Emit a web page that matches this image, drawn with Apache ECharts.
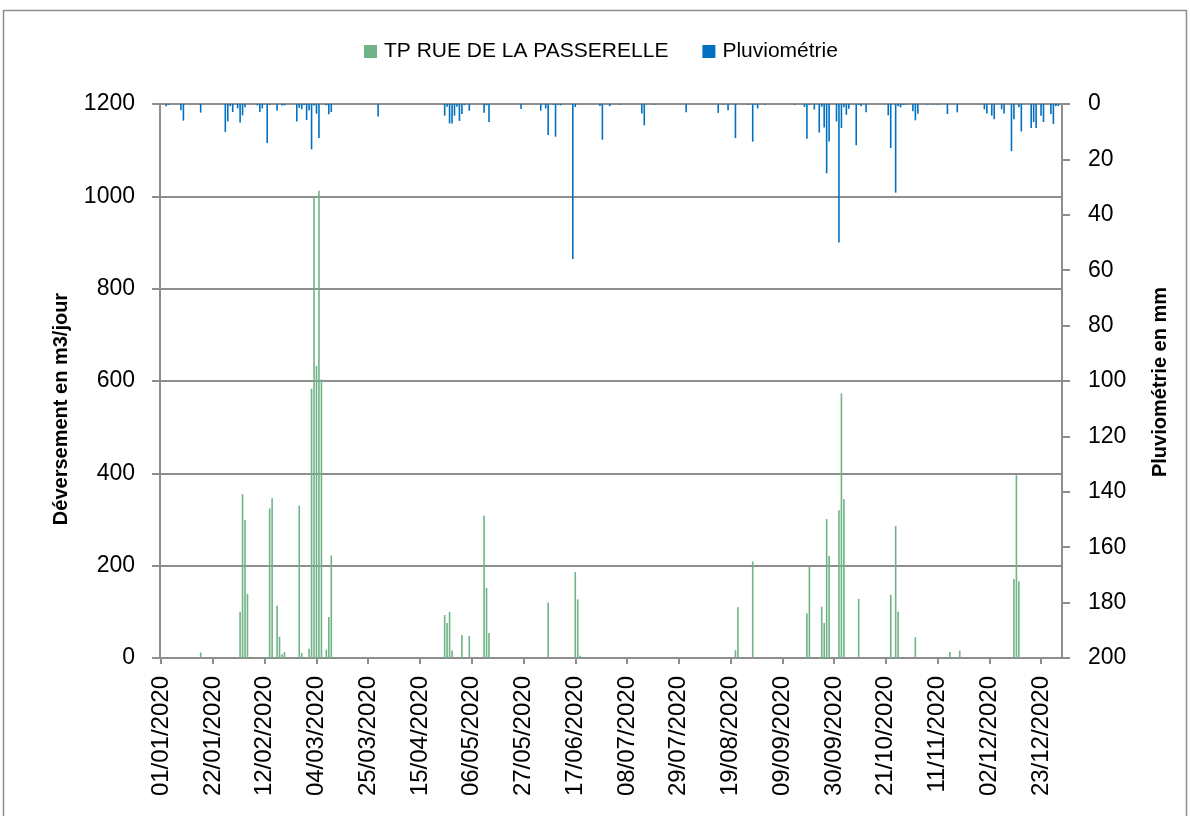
<!DOCTYPE html>
<html>
<head>
<meta charset="utf-8">
<title>Déversement TP Rue de la Passerelle 2020</title>
<script src="https://cdn.jsdelivr.net/npm/echarts@6/dist/echarts.min.js"></script>
<style>
  html, body { margin: 0; padding: 0; background: #fff; }
  #chart { width: 1190px; height: 816px; }
</style>
</head>
<body>
<div id="chart"></div>
<script>
// jours de l'année (0 = 01/01/2020) où il y a un déversement, et volumes en m3/jour
var overflowDays = [16, 32, 33, 34, 35, 44, 45, 47, 48, 49, 50, 56, 57, 60, 61, 62, 63, 64, 65, 67, 68, 69,
  115, 116, 117, 118, 122, 125, 131, 132, 133, 157, 168, 169, 170,
  233, 234, 240, 262, 263, 268, 269, 270, 271, 275, 276, 277,
  283, 296, 298, 299, 306, 320, 324, 346, 347, 348];
var overflowValues = [12, 100, 355, 299, 139, 324, 346, 113, 46, 8, 13, 330, 11, 20, 583, 1000, 633, 1012, 603, 18, 89, 222,
  93, 76, 100, 16, 50, 48, 308, 152, 54, 120, 186, 127, 5,
  17, 110, 209, 97, 198, 111, 76, 301, 221, 320, 573, 344,
  128, 137, 286, 100, 45, 13, 16, 171, 396, 166];

// pluviométrie en mm
var rainDays = [2, 3, 8, 9, 16, 26, 27, 28, 29, 31, 32, 33, 34, 39, 40, 41, 43, 44, 47, 49, 50,
  55, 56, 57, 58, 59, 60, 61, 62, 63, 64, 67, 68, 69, 88,
  115, 116, 117, 118, 119, 120, 121, 122, 123, 125, 131, 132, 133, 146, 154, 156, 157, 159, 160, 161, 162,
  167, 168, 178, 179, 182, 186, 195, 196, 200, 213, 226, 228, 230, 233, 238, 240, 241, 242, 245, 257,
  261, 262, 263, 265, 267, 268, 269, 270, 271, 274, 275, 276, 277, 278, 279, 282, 283, 284, 286,
  295, 296, 298, 299, 300, 301, 302, 305, 306, 307, 311, 313, 315, 319, 323,
  334, 335, 337, 338, 341, 342, 345, 346, 348, 349, 353, 354, 355, 357, 358, 361, 362, 363, 364];
var rainValues = [0.8, 0.3, 2.3, 6, 3.1, 10.1, 6.3, 0.8, 2.9, 1.6, 6.7, 4.1, 1.2, 0.5, 2.9, 1.6, 14.1, 0.3, 2.4, 0.5, 0.5,
  6.3, 1.4, 1.9, 0.4, 5.8, 2.3, 16.4, 0.5, 3.5, 12.3, 0.5, 3.7, 2.9, 4.5,
  4.2, 1, 7, 7, 4.2, 1, 6.1, 3.6, 0.4, 2.4, 3.2, 0.5, 6.5, 1.8, 2.4, 1.6, 11.2, 0.3, 11.8, 0.3, 0.5,
  56, 1.1, 0.7, 12.9, 0.8, 0.3, 3.4, 7.7, 0.3, 3, 3.2, 0.3, 2.3, 12.3, 0.3, 13.6, 0.3, 1.6, 0.3, 0.3,
  1.1, 12.5, 0.3, 2, 10.3, 1, 8.5, 25, 13.5, 6.3, 50, 8.7, 1.2, 3.9, 1.7, 14.9, 0.3, 0.8, 3,
  4.1, 15.9, 32, 0.8, 1.2, 0.3, 0.3, 2.6, 5.9, 3.5, 0.2, 0.2, 0.2, 3.6, 3,
  1.9, 3.4, 4.2, 5.5, 1.9, 3.4, 17, 5.5, 1.2, 9.9, 8.7, 6.5, 8.7, 4.2, 6.5, 3.6, 7.2, 0.8, 0.7];

var leftTicks = { min: 0, max: 1200, interval: 200 };
var rightTicks = { min: 0, max: 200, interval: 20 };

// catégories : tous les jours de 2020
var dates = [];
for (var t = Date.UTC(2020, 0, 1); t < Date.UTC(2021, 0, 1); t += 86400000) {
  var d = new Date(t);
  var dd = ('0' + d.getUTCDate()).slice(-2);
  var mm = ('0' + (d.getUTCMonth() + 1)).slice(-2);
  dates.push(dd + '/' + mm + '/' + d.getUTCFullYear());
}

function fill(days, values) {
  var arr = dates.map(function () { return 0; });
  days.forEach(function (day, i) { arr[day] = values[i]; });
  return arr;
}
var overflow = fill(overflowDays, overflowValues);
var rain = fill(rainDays, rainValues);

var font = '"Liberation Sans", Arial, sans-serif';
var gray = '#8e8e8e';
var plain = function (v) { return String(v); };

var chart = echarts.init(document.getElementById('chart'));
chart.setOption({
  animation: false,
  textStyle: { fontFamily: font },
  legend: {
    top: 36,
    left: 359,
    itemWidth: 13,
    itemHeight: 13,
    itemGap: 34,
    icon: 'rect',
    textStyle: { fontSize: 21, color: '#000', fontFamily: font, padding: [0, 0, 0, 2] },
    data: ['TP RUE DE LA PASSERELLE', 'Pluviométrie']
  },
  grid: { left: 160, right: 128, top: 104, bottom: 158 },
  xAxis: {
    type: 'category',
    data: dates,
    boundaryGap: true,
    axisLine: { lineStyle: { color: gray, width: 2 } },
    axisTick: { show: true, interval: 20, alignWithLabel: true, length: 6, lineStyle: { color: gray, width: 2 } },
    axisLabel: { interval: 20, rotate: 90, margin: 18, fontSize: 24, color: '#000', fontFamily: font }
  },
  yAxis: [{
    type: 'value',
    min: leftTicks.min, max: leftTicks.max, interval: leftTicks.interval,
    axisLine: { show: true, lineStyle: { color: gray, width: 2 } },
    axisTick: { show: true, length: 8, lineStyle: { color: gray, width: 2 } },
    axisLabel: { margin: 25, fontSize: 23, color: '#000', fontFamily: font, formatter: plain },
    splitLine: { lineStyle: { color: gray, width: 2 } }
  }, {
    type: 'value',
    inverse: true,
    min: rightTicks.min, max: rightTicks.max, interval: rightTicks.interval,
    axisLine: { show: true, lineStyle: { color: gray, width: 2 } },
    axisTick: { show: true, length: 8, lineStyle: { color: gray, width: 2 } },
    axisLabel: { margin: 26, fontSize: 23, color: '#000', fontFamily: font, formatter: plain },
    splitLine: { show: false }
  }],
  series: [{
    name: 'TP RUE DE LA PASSERELLE',
    type: 'bar',
    yAxisIndex: 0,
    data: overflow,
    barWidth: 1.6,
    barGap: '-100%',
    itemStyle: { color: '#6FB387' }
  }, {
    name: 'Pluviométrie',
    type: 'bar',
    yAxisIndex: 1,
    data: rain,
    barWidth: 1.6,
    barGap: '-100%',
    itemStyle: { color: '#0070C0' }
  }],
  graphic: [{
    type: 'rect',
    shape: { x: 3.5, y: 10.5, width: 1183, height: 830 },
    style: { fill: 'none', stroke: '#8e8e8e', lineWidth: 1.5 },
    silent: true
  }, {
    type: 'text',
    x: 61, y: 409,
    rotation: Math.PI / 2,
    style: {
      text: 'Déversement en m3/jour',
      font: 'bold 20px ' + font,
      fill: '#000',
      align: 'center',
      verticalAlign: 'middle'
    }
  }, {
    type: 'text',
    x: 1160, y: 382,
    rotation: Math.PI / 2,
    style: {
      text: 'Pluviométrie en mm',
      font: 'bold 20px ' + font,
      fill: '#000',
      align: 'center',
      verticalAlign: 'middle'
    }
  }]
});
</script>
</body>
</html>
